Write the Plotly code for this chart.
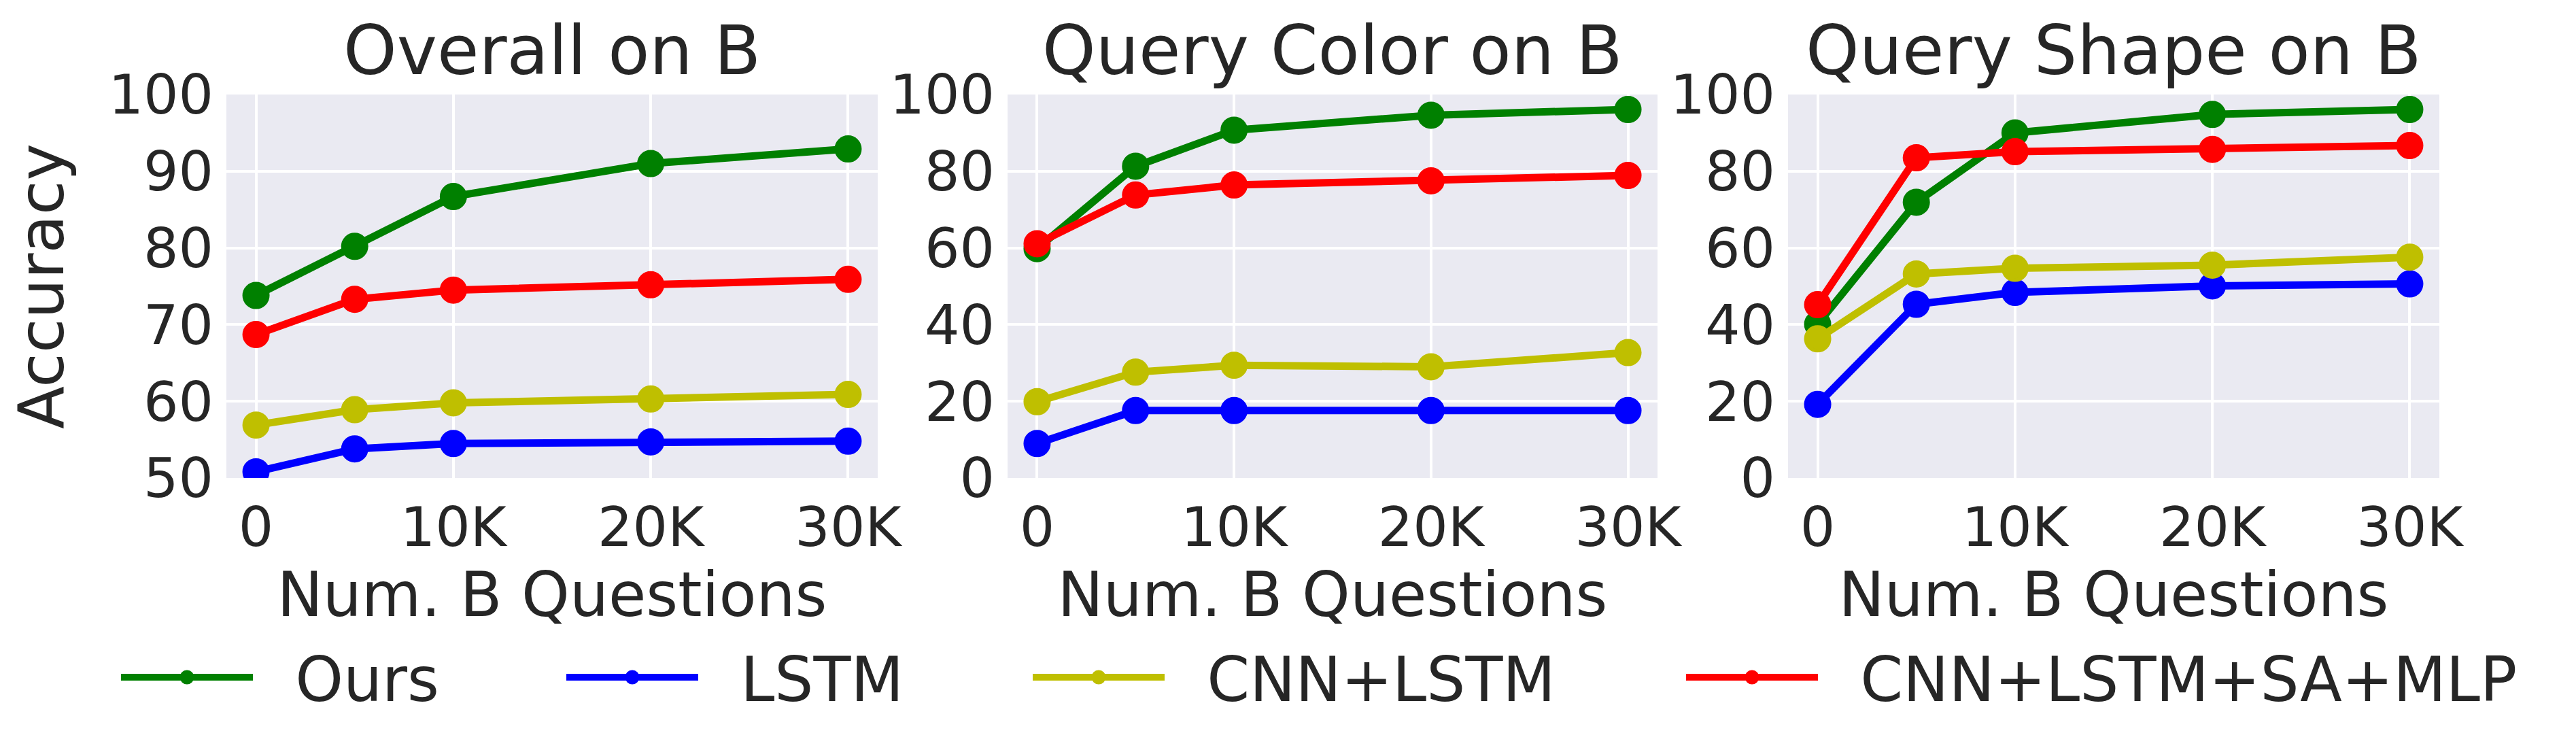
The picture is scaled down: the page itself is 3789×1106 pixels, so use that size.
import plotly.graph_objects as go

# number of B questions used for fine-tuning
num_b = [0, 5000, 10000, 20000, 30000]
tick_vals = [0, 10000, 20000, 30000]
tick_text = ["0", "10K", "20K", "30K"]

methods = ["Ours", "LSTM", "CNN+LSTM", "CNN+LSTM+SA+MLP"]
colors = {"Ours": "#008000", "LSTM": "#0000ff", "CNN+LSTM": "#bfbf00", "CNN+LSTM+SA+MLP": "#ff0000"}

panel_titles = ["Overall on B", "Query Color on B", "Query Shape on B"]

# accuracy
overall = {
    "Ours": [73.8, 80.2, 86.7, 91.0, 92.9],
    "LSTM": [50.8, 53.8, 54.5, 54.7, 54.8],
    "CNN+LSTM": [56.9, 58.9, 59.8, 60.3, 60.9],
    "CNN+LSTM+SA+MLP": [68.7, 73.3, 74.5, 75.2, 75.9],
}
query_color = {
    "Ours": [59.8, 81.3, 90.7, 94.6, 96.1],
    "LSTM": [9.0, 17.6, 17.6, 17.6, 17.6],
    "CNN+LSTM": [19.9, 27.6, 29.4, 29.0, 32.7],
    "CNN+LSTM+SA+MLP": [61.1, 73.8, 76.4, 77.5, 78.9],
}
query_shape = {
    "Ours": [40.1, 71.9, 90.0, 94.8, 96.1],
    "LSTM": [19.2, 45.3, 48.4, 50.1, 50.6],
    "CNN+LSTM": [36.3, 53.2, 54.7, 55.5, 57.6],
    "CNN+LSTM+SA+MLP": [45.2, 83.5, 85.1, 85.7, 86.7],
}
panels = [overall, query_color, query_shape]

W, H = 3789, 1106
font = "DejaVu Sans"
txt = "#262626"

fig = go.Figure()

x_domains = [[325 / W, 1283 / W], [1474 / W, 2430 / W], [2622 / W, 3580 / W]]
y_domain = [1 - 695 / H, 1 - 131 / H]
legend_names = ["legend", "legend2", "legend3", "legend4"]

for i, data in enumerate(panels):
    sfx = "" if i == 0 else str(i + 1)
    for j, m in enumerate(methods):
        # marker outline in the same colour so the legend glyph gets a bit bigger too
        fig.add_trace(go.Scatter(
            x=num_b, y=data[m], name="\u00a0\u00a0" + m, mode="lines+markers",
            line=dict(color=colors[m], width=11),
            marker=dict(color=colors[m], size=35, line=dict(color=colors[m], width=5)),
            xaxis="x" + sfx, yaxis="y" + sfx,
            showlegend=(i == 0), legend=legend_names[j],
        ))

axis_common = dict(
    showgrid=True, gridcolor="white", gridwidth=3.5, zeroline=False,
    showline=False, tickfont=dict(family=font, size=81, color=txt),
    ticks="", ticklabelstandoff=18, automargin=False,
)

layout = dict(
    width=W, height=H, margin=dict(l=0, r=0, t=0, b=0, autoexpand=False),
    paper_bgcolor="white", plot_bgcolor="#eaeaf2",
    font=dict(family=font, color=txt),
)
for i in range(3):
    sfx = "" if i == 0 else str(i + 1)
    ya = "y" + sfx
    layout["xaxis" + sfx] = dict(
        axis_common, domain=x_domains[i], anchor=ya,
        range=[-1500, 31500], tickvals=tick_vals, ticktext=tick_text,
        title=dict(text="Num. B Questions", font=dict(family=font, size=90, color=txt), standoff=4),
    )
    if i == 0:
        yrange, dtick = [50, 100], 10
    else:
        yrange, dtick = [0, 100], 20
    layout["yaxis" + sfx] = dict(
        axis_common, domain=y_domain, anchor="x" + sfx,
        range=yrange, dtick=dtick,
    )
layout["yaxis"]["title"] = dict(text="Accuracy", font=dict(family=font, size=92, color=txt), standoff=42)

leg_x = [177, 832, 1518, 2479]
for j, ln in enumerate(legend_names):
    layout[ln] = dict(
        x=(leg_x[j] - 12) / W, y=1 - 988 / H, xanchor="left", yanchor="middle",
        orientation="h", font=dict(family=font, size=90, color=txt),
        bgcolor="rgba(0,0,0,0)", itemwidth=194, itemsizing="trace",
    )

fig.update_layout(**layout)

for i, t in enumerate(panel_titles):
    fig.add_annotation(
        text=t, xref="paper", yref="paper",
        x=sum(x_domains[i]) / 2, y=1 - 67 / H,
        xanchor="center", yanchor="middle", showarrow=False,
        font=dict(family=font, size=100, color=txt),
    )

fig.write_html("out.html")
